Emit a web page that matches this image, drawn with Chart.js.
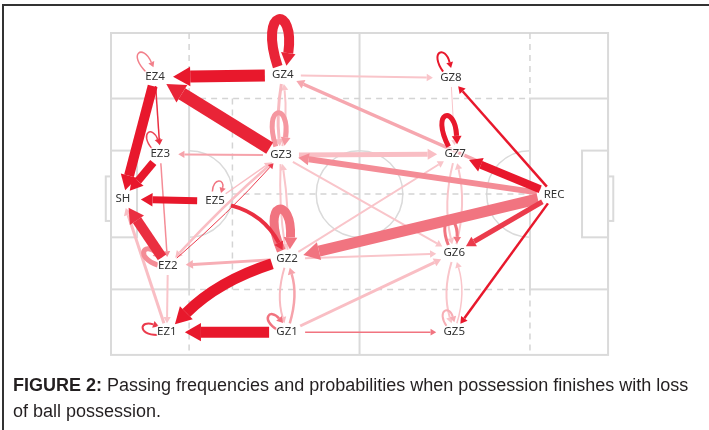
<!DOCTYPE html>
<html>
<head>
<meta charset="utf-8">
<script src="https://cdn.jsdelivr.net/npm/chart.js@4.4.1/dist/chart.umd.min.js"></script>
<style>
  html, body { margin: 0; padding: 0; background: #fff; }
  #wrap { position: relative; width: 709px; height: 430px; overflow: hidden; }
  #frame { position: absolute; left: 2px; top: 4px; width: 740px; height: 460px;
           border-top: 2px solid #333; border-left: 2px solid #333; }
  #pitch { position: absolute; left: 0; top: 0; }
  #cap { position: absolute; left: 13px; top: 372px; white-space: nowrap;
         font: 18px "Liberation Sans", Arial, sans-serif; color: #231f20; line-height: 26px; }
</style>
</head>
<body>
<div id="wrap">
  <div id="frame"></div>
  <canvas id="pitch" width="709" height="430"></canvas>
  <div id="cap"><b>FIGURE 2:</b> Passing frequencies and probabilities when possession finishes with loss<br>of ball possession.</div>
</div>
<script>
// zones, positions on a 105 x 68 m pitch
const zoneNames = ['EZ4', 'GZ4', 'GZ8', 'EZ3', 'GZ3', 'GZ7', 'SH', 'EZ5', 'REC', 'EZ2', 'GZ2', 'GZ6', 'EZ1', 'GZ1', 'GZ5'];
const zoneX = [9.3, 36.3, 71.8, 10.4, 35.9, 72.7, 2.5, 22.0, 93.6, 12.0, 37.2, 72.5, 11.8, 37.2, 72.5];
const zoneY = [9.3, 8.9, 9.5, 25.6, 25.8, 25.6, 35.1, 35.5, 34.2, 49.2, 47.7, 46.5, 63.2, 63.2, 63.2];

// passes between zones: frequency and probability
const passFrom = ['GZ4', 'GZ3', 'EZ4', 'EZ3', 'EZ4', 'GZ3', 'EZ5', 'EZ2', 'EZ1', 'GZ2', 'GZ2', 'GZ1', 'EZ5',
  'GZ4', 'GZ3', 'GZ3', 'EZ2', 'EZ5', 'EZ3', 'EZ2', 'GZ1', 'GZ2', 'GZ3', 'GZ2',
  'REC', 'REC', 'REC', 'REC', 'REC', 'REC', 'REC', 'GZ4', 'GZ3', 'GZ2', 'GZ3', 'GZ2', 'GZ1', 'GZ1',
  'GZ7', 'GZ6', 'GZ8', 'GZ6', 'GZ5',
  'GZ4', 'EZ4', 'EZ3', 'EZ2', 'EZ1', 'GZ1', 'GZ2', 'GZ3', 'GZ7', 'GZ8', 'GZ6', 'GZ5', 'EZ5'];
const passTo = ['EZ4', 'EZ4', 'SH', 'SH', 'EZ3', 'EZ3', 'SH', 'SH', 'SH', 'EZ2', 'EZ1', 'EZ1', 'GZ2',
  'GZ3', 'GZ4', 'EZ2', 'GZ3', 'GZ3', 'EZ2', 'EZ1', 'GZ2', 'GZ1', 'GZ2', 'GZ3',
  'GZ7', 'GZ8', 'GZ5', 'GZ2', 'GZ3', 'GZ6', 'GZ4', 'GZ8', 'GZ7', 'GZ7', 'GZ6', 'GZ6', 'GZ6', 'GZ5',
  'GZ6', 'GZ7', 'GZ7', 'GZ5', 'GZ6',
  'GZ4', 'EZ4', 'EZ3', 'EZ2', 'EZ1', 'GZ1', 'GZ2', 'GZ3', 'GZ7', 'GZ8', 'GZ6', 'GZ5', 'EZ5'];
const passFreq = [120, 130, 100, 80, 15, 20, 70, 100, 30, 30, 110, 110, 40,
  30, 20, 25, 10, 15, 15, 20, 25, 20, 20, 20,
  80, 25, 25, 110, 60, 50, 35, 20, 50, 20, 20, 20, 30, 15,
  20, 20, 10, 20, 15,
  100, 15, 15, 50, 20, 25, 90, 50, 50, 20, 30, 20, 15];
const passProb = [1.0, 0.95, 1.0, 1.0, 0.9, 0.4, 1.0, 0.9, 0.28, 0.35, 1.0, 1.0, 0.9,
  0.3, 0.25, 0.28, 0.85, 0.28, 0.5, 0.25, 0.4, 0.3, 0.25, 0.25,
  1.0, 1.0, 1.0, 0.6, 0.5, 0.85, 0.38, 0.25, 0.28, 0.25, 0.25, 0.25, 0.28, 0.6,
  0.25, 0.25, 0.25, 0.25, 0.25,
  0.95, 0.55, 0.8, 0.5, 0.85, 0.6, 0.6, 0.45, 1.0, 1.0, 0.6, 0.35, 0.6];

// drawing style: curve bends and self-loop directions (degrees, px)
const bends = { 'GZ2-EZ1': 0.12, 'EZ5-GZ2': -0.22, 'GZ4-GZ3': 0.07, 'GZ3-GZ4': 0.07, 'GZ1-GZ2': 0.15, 'GZ2-GZ1': 0.15,
  'GZ3-GZ2': 0.05, 'GZ2-GZ3': 0.05, 'GZ7-GZ6': 0.12, 'GZ6-GZ7': 0.12, 'GZ6-GZ5': 0.15, 'GZ5-GZ6': 0.15,
  'GZ3-EZ2': 0.03, 'EZ2-GZ3': 0.03 };
const loops = { GZ4: [-95, 72], EZ4: [-125, 36], EZ3: [-120, 30], EZ2: [-150, 34], EZ1: [-170, 30], GZ1: [-140, 30],
  GZ2: [-100, 64], GZ3: [-95, 54], GZ7: [-105, 50], GZ8: [-115, 34], GZ6: [-100, 42], GZ5: [-115, 28], EZ5: [-80, 24] };

const K = 4.734; // px per metre
const RED = [232, 24, 44];
function passColor(p) {
  return 'rgb(' + RED.map(c => Math.round(255 - p * (255 - c))).join(',') + ')';
}
function rot(deg, r) { const a = deg * Math.PI / 180; return { x: Math.cos(a) * r, y: Math.sin(a) * r }; }
function shrink(p, toward) {
  const dx = toward.x - p.x, dy = toward.y - p.y, l = Math.hypot(dx, dy) || 1;
  const ux = dx / l, uy = dy / l;
  const r = 1 / Math.sqrt((ux / 18) ** 2 + (uy / 9) ** 2);
  return { x: p.x + ux * r, y: p.y + uy * r };
}
function head(ctx, e, from, w) {
  const tx = e.x - from.x, ty = e.y - from.y, l = Math.hypot(tx, ty) || 1;
  const ux = tx / l, uy = ty / l;
  const L = 4 + w * 1.1, H = 2.5 + w * 0.6;
  const b = { x: e.x - ux * L, y: e.y - uy * L };
  ctx.beginPath();
  ctx.moveTo(e.x, e.y);
  ctx.lineTo(b.x - uy * H, b.y + ux * H);
  ctx.lineTo(b.x + uy * H, b.y - ux * H);
  ctx.closePath();
  ctx.fill();
  return b;
}

const pitchPlugin = {
  id: 'pitch',
  beforeDatasetsDraw(chart) {
    const { ctx, scales } = chart;
    const X = v => scales.x.getPixelForValue(v), Y = v => scales.y.getPixelForValue(v);
    ctx.save();
    // pitch markings
    ctx.strokeStyle = '#dadada';
    ctx.lineWidth = 2;
    const rect = (x0, y0, x1, y1) => ctx.strokeRect(X(x0), Y(y0), X(x1) - X(x0), Y(y1) - Y(y0));
    const line = (x0, y0, x1, y1) => { ctx.beginPath(); ctx.moveTo(X(x0), Y(y0)); ctx.lineTo(X(x1), Y(y1)); ctx.stroke(); };
    rect(0, 0, 105, 68);
    line(52.5, 0, 52.5, 68);
    rect(0, 13.84, 16.5, 54.16);
    rect(88.5, 13.84, 105, 54.16);
    rect(0, 24.84, 5.5, 43.16);
    rect(99.5, 24.84, 105, 43.16);
    rect(-1.1, 30.3, 0, 39.7);
    rect(105, 30.3, 106.1, 39.7);
    ctx.lineWidth = 1.5;
    ctx.beginPath(); ctx.arc(X(52.5), Y(34), 9.15 * K, 0, Math.PI * 2); ctx.stroke();
    ctx.beginPath(); ctx.arc(X(16.5), Y(34), 9.15 * K, -Math.PI / 2, Math.PI / 2); ctx.stroke();
    ctx.beginPath(); ctx.arc(X(88.5), Y(34), 9.15 * K, Math.PI / 2, Math.PI * 1.5); ctx.stroke();
    // zone grid
    ctx.setLineDash([6, 5]);
    ctx.strokeStyle = '#d4d4d4';
    line(16.5, 0, 16.5, 13.84); line(16.5, 54.16, 16.5, 68);
    line(88.5, 0, 88.5, 13.84); line(88.5, 54.16, 88.5, 68);
    line(25.65, 13.84, 25.65, 54.16);
    line(16.5, 13.84, 88.5, 13.84);
    line(16.5, 54.16, 88.5, 54.16);
    line(25.65, 34, 88.5, 34);
    ctx.setLineDash([]);

    // passes, pale ones first
    const pos = {};
    zoneNames.forEach((n, i) => { pos[n] = { x: X(zoneX[i]), y: Y(zoneY[i]) }; });
    const order = passFrom.map((_, i) => i).sort((a, b) => passProb[a] - passProb[b] || passFreq[a] - passFreq[b]);
    ctx.lineCap = 'butt';
    order.forEach(i => {
      const w = Math.max(1, passFreq[i] / 10);
      const col = passColor(passProb[i]);
      ctx.strokeStyle = col; ctx.fillStyle = col; ctx.lineWidth = w;
      const a = pos[passFrom[i]], z = pos[passTo[i]];
      if (passFrom[i] === passTo[i]) {
        const [ang, D] = loops[passFrom[i]];
        const s = rot(ang - 26, 10), e = rot(ang + 26, 10), c1 = rot(ang - 15, D), c2 = rot(ang + 15, D);
        const S = { x: a.x + s.x, y: a.y + s.y }, E = { x: a.x + e.x, y: a.y + e.y };
        const C1 = { x: a.x + c1.x, y: a.y + c1.y }, C2 = { x: a.x + c2.x, y: a.y + c2.y };
        const b = head(ctx, E, C2, w * 0.8);
        ctx.beginPath(); ctx.moveTo(S.x, S.y); ctx.bezierCurveTo(C1.x, C1.y, C2.x, C2.y, b.x, b.y); ctx.stroke();
        return;
      }
      const bend = bends[passFrom[i] + '-' + passTo[i]] || 0;
      const dx = z.x - a.x, dy = z.y - a.y;
      const c = { x: (a.x + z.x) / 2 - dy * bend, y: (a.y + z.y) / 2 + dx * bend };
      const s = shrink(a, c), e = shrink(z, c);
      const b = head(ctx, e, c, w);
      ctx.beginPath(); ctx.moveTo(s.x, s.y); ctx.quadraticCurveTo(c.x, c.y, b.x, b.y); ctx.stroke();
    });
    ctx.restore();
  },
  afterDatasetsDraw(chart) {
    const { ctx, scales } = chart;
    ctx.save();
    ctx.font = '11.5px "Noto Sans", "Open Sans", sans-serif';
    ctx.textAlign = 'center';
    ctx.textBaseline = 'middle';
    ctx.lineJoin = 'round';
    zoneNames.forEach((n, i) => {
      const px = scales.x.getPixelForValue(zoneX[i]), py = scales.y.getPixelForValue(zoneY[i]);
      ctx.strokeStyle = 'rgba(255,255,255,0.75)'; ctx.lineWidth = 3;
      ctx.strokeText(n, px, py);
      ctx.fillStyle = '#333';
      ctx.fillText(n, px, py);
    });
    ctx.restore();
  }
};

new Chart(document.getElementById('pitch'), {
  type: 'scatter',
  data: {
    datasets: [{
      data: zoneNames.map((n, i) => ({ x: zoneX[i], y: zoneY[i] })),
      pointRadius: 0
    }]
  },
  options: {
    responsive: false,
    animation: false,
    layout: { padding: 0 },
    plugins: { legend: { display: false }, tooltip: { enabled: false } },
    scales: {
      x: { display: false, min: -111 / K, max: (709 - 111) / K },
      y: { display: false, reverse: true, min: -33 / K, max: (430 - 33) / K }
    }
  },
  plugins: [pitchPlugin]
});
</script>
</body>
</html>
